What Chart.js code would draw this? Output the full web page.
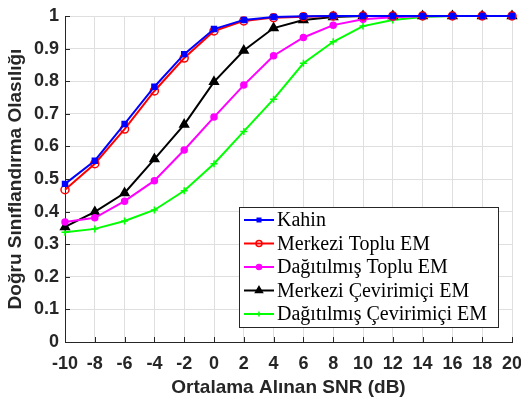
<!DOCTYPE html>
<html>
<head>
<meta charset="utf-8">
<script src="https://cdn.jsdelivr.net/npm/chart.js@4"></script>
<style>
  html, body { margin: 0; padding: 0; background: #fff; }
  #wrap { width: 521px; height: 403px; }
</style>
</head>
<body>
<div id="wrap"><canvas id="chart" width="521" height="403"></canvas></div>
<script>
// SNR values (dB)
const snr = [-10, -8, -6, -4, -2, 0, 2, 4, 6, 8, 10, 12, 14, 16, 18, 20];

// probability of correct classification per method
const kahin = [0.485, 0.556, 0.669, 0.783, 0.883, 0.960, 0.988, 0.997, 0.999, 1, 1, 1, 1, 1, 1, 1];
const merkeziToplu = [0.467, 0.547, 0.653, 0.770, 0.871, 0.954, 0.985, 0.995, 0.998, 1, 1, 1, 1, 1, 1, 1];
const dagitilmisToplu = [0.368, 0.381, 0.432, 0.495, 0.589, 0.690, 0.788, 0.878, 0.934, 0.972, 0.990, 0.996, 0.999, 1, 1, 1];
const merkeziCevrimici = [0.353, 0.399, 0.457, 0.561, 0.667, 0.798, 0.894, 0.963, 0.988, 0.997, 1, 1, 1, 1, 1, 1];
const dagitilmisCevrimici = [0.337, 0.347, 0.371, 0.405, 0.464, 0.547, 0.646, 0.745, 0.855, 0.921, 0.969, 0.988, 0.997, 1, 1, 1];

const yTicks = [0, 0.1, 0.2, 0.3, 0.4, 0.5, 0.6, 0.7, 0.8, 0.9, 1];
const xTicks = snr;

const toPoints = arr => arr.map((v, i) => ({ x: snr[i], y: v }));

const tickFont = { family: 'Liberation Sans, Arial, sans-serif', size: 18, weight: 'bold' };
const titleFont = { family: 'Liberation Sans, Arial, sans-serif', size: 19, weight: 'bold' };

// legend drawn inside the plot, MATLAB style
const boxLegend = {
    id: 'boxLegend',
    afterDraw(chart) {
        const ctx = chart.ctx;
        const x0 = 239, y0 = 207, w = 259, h = 120;
        ctx.save();
        ctx.fillStyle = '#fff';
        ctx.fillRect(x0, y0, w, h);
        ctx.strokeStyle = '#262626';
        ctx.lineWidth = 1;
        ctx.strokeRect(x0 + 0.5, y0 + 0.5, w, h);
        ctx.font = '20px "Liberation Serif", "Times New Roman", serif';
        ctx.textBaseline = 'middle';
        chart.data.datasets.forEach((ds, i) => {
            const cy = y0 + 13 + i * 23.5;
            ctx.strokeStyle = ds.borderColor;
            ctx.lineWidth = 2;
            ctx.beginPath();
            ctx.moveTo(x0 + 5, cy);
            ctx.lineTo(x0 + 35, cy);
            ctx.stroke();
            ctx.fillStyle = ds.pointBackgroundColor;
            ctx.strokeStyle = ds.borderColor;
            ctx.lineWidth = 1.5;
            Chart.helpers.drawPoint(ctx, {
                pointStyle: ds.pointStyle,
                radius: Math.max(2.5, ds.pointRadius - 1),
                borderWidth: 1.5,
                rotation: 0
            }, x0 + 20, cy);
            ctx.fillStyle = '#000';
            ctx.fillText(ds.label, x0 + 38, cy + 1);
        });
        ctx.restore();
    }
};

// inward tick marks on bottom/left axes
const innerTicks = {
    id: 'innerTicks',
    afterDatasetsDraw(chart) {
        const { ctx, chartArea: a, scales } = chart;
        ctx.save();
        ctx.strokeStyle = '#262626';
        ctx.lineWidth = 1;
        ctx.beginPath();
        xTicks.forEach(t => {
            const px = Math.round(scales.x.getPixelForValue(t)) + 0.5;
            ctx.moveTo(px, a.bottom);
            ctx.lineTo(px, a.bottom - 5);
        });
        yTicks.forEach(t => {
            const py = Math.round(scales.y.getPixelForValue(t)) + 0.5;
            ctx.moveTo(a.left, py);
            ctx.lineTo(a.left + 5, py);
        });
        ctx.stroke();
        ctx.restore();
    }
};

const mk = (label, data, color, style, radius, fill) => ({
    label: label,
    data: toPoints(data),
    borderColor: color,
    backgroundColor: fill,
    pointBackgroundColor: fill,
    pointBorderColor: color,
    pointStyle: style,
    pointRadius: radius,
    pointBorderWidth: 1.5,
    borderWidth: 2,
    tension: 0,
    clip: false
});

new Chart(document.getElementById('chart'), {
    type: 'line',
    data: {
        datasets: [
            mk('Kahin', kahin, '#0000ff', 'rect', 3.5, '#0000ff'),
            mk('Merkezi Toplu EM', merkeziToplu, '#ff0000', 'circle', 4, 'rgba(255,255,255,0)'),
            mk('Dağıtılmış Toplu EM', dagitilmisToplu, '#ff00ff', 'circle', 3, '#ff00ff'),
            mk('Merkezi Çevirimiçi EM', merkeziCevrimici, '#000000', 'triangle', 5, '#000000'),
            mk('Dağıtılmış Çevirimiçi EM', dagitilmisCevrimici, '#00ff00', 'cross', 3.5, '#00ff00')
        ]
    },
    options: {
        responsive: false,
        animation: false,
        layout: { padding: { top: 16, right: 9, left: 2, bottom: 0 } },
        plugins: {
            legend: { display: false },
            tooltip: { enabled: false }
        },
        scales: {
            x: {
                type: 'linear',
                min: -10,
                max: 20,
                afterBuildTicks: s => { s.ticks = xTicks.map(v => ({ value: v })); },
                afterFit: s => { s.height = 61; s.paddingRight = 0; s.paddingLeft = 0; },
                ticks: { font: tickFont, color: '#262626', padding: 11, maxRotation: 0, autoSkip: false },
                grid: { color: '#dfdfdf', drawTicks: false },
                border: { color: '#262626', width: 1 },
                title: { display: true, text: 'Ortalama Alınan SNR (dB)', font: titleFont, color: '#262626', padding: { top: 2, bottom: 4 } }
            },
            y: {
                min: 0,
                max: 1,
                afterBuildTicks: s => { s.ticks = yTicks.map(v => ({ value: v })); },
                afterFit: s => { s.width = 63; s.paddingTop = 0; s.paddingBottom = 0; },
                ticks: { font: tickFont, color: '#262626', padding: 6, callback: v => String(Math.round(v * 10) / 10) },
                grid: { color: '#dfdfdf', drawTicks: false },
                border: { color: '#262626', width: 1 },
                title: { display: true, text: 'Doğru Sınıflandırma Olasılığı', font: titleFont, color: '#262626', padding: { top: 2, bottom: 2 } }
            }
        }
    },
    plugins: [innerTicks, boxLegend]
});
</script>
</body>
</html>
